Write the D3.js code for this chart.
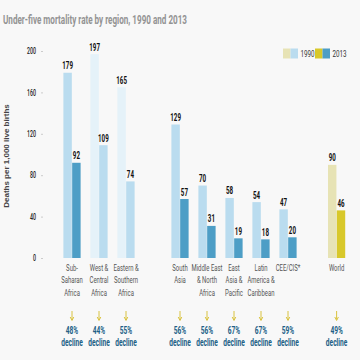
<!DOCTYPE html>
<html><head><meta charset="utf-8">
<script src="https://cdn.jsdelivr.net/npm/d3@7/dist/d3.min.js"></script>
<style>
body{margin:0;background:#f8f8f8}
svg{display:block}
.n{font-family:Roboto,"Liberation Sans",sans-serif}
</style></head>
<body><svg id="chart" width="360" height="360"></svg>
<script>
const categories = ["Sub-\nSaharan\nAfrica","West &\nCentral\nAfrica","Eastern &\nSouthern\nAfrica","South\nAsia","Middle East\n& North\nAfrica","East\nAsia &\nPacific","Latin\nAmerica &\nCaribbean","CEE/CIS*","World"];
const groupKinds = ["region","sub","sub","region","region","region","region","region","world"];
const values1990 = [179,197,165,129,70,58,54,47,90];
const values2013 = [92,109,74,57,31,19,18,20,46];
const declines = ["48%","44%","55%","56%","56%","67%","67%","59%","49%"];
const seriesNames = ["1990","2013"];
const yTicks = [0,40,80,120,160,200];
const titleText = "Under-five mortality rate by region, 1990 and 2013";
const yTitleText = "Deaths per 1,000 live births";

const palette = {region:["#badcef","#4d9ec6"], sub:["#e5f2f9","#badcef"], world:["#e7e3b5","#d8c82a"]};

const svg = d3.select("#chart");
svg.append("rect").attr("width",360).attr("height",360).attr("fill","#f8f8f8");

const slot = i => i + (i>=3?1:0) + (i>=8?0.8:0);
const x = d3.scaleLinear().domain([0, 9.8]).range([72, 336.6]);
const xs = d3.scaleBand().domain(seriesNames).range([-8.6, 8.6]).paddingInner(0.04);
const y = d3.scaleLinear().domain([0,200]).range([258, 51]);

// title
svg.append("text").attr("class","n").attr("x",3).attr("y",24)
  .attr("font-size",12.5).attr("font-weight","bold").attr("fill","#939393")
  .attr("textLength",184).attr("lengthAdjust","spacingAndGlyphs").text(titleText);

// y axis
const TS = 0.62;
const yAxis = svg.append("g").attr("transform","translate(43,0)")
  .call(d3.axisLeft(y).tickValues(yTicks).tickSize(2).tickPadding(5));
yAxis.select(".domain").remove();
yAxis.selectAll(".tick line").attr("stroke","#ccc");
yAxis.selectAll(".tick text").attr("class","n").attr("font-family",null)
  .attr("font-size",8.5).attr("font-weight",500).attr("fill","#222")
  .attr("x",-7/TS).attr("transform",`scale(${TS},1)`);

svg.append("text").attr("transform","translate(9,156) rotate(-90)")
  .attr("text-anchor","middle").attr("font-family","Liberation Sans, Arial, sans-serif")
  .attr("font-weight","bold").attr("font-size",8).attr("fill","#444").text(yTitleText);

// data rows
const rows = categories.map((c,i)=>({i, name:c, kind:groupKinds[i], v:[values1990[i], values2013[i]], dec:declines[i]}));

const g = svg.selectAll("g.grp").data(rows).join("g").attr("class","grp")
  .attr("transform", d=>`translate(${x(slot(d.i))},0)`);

g.selectAll("rect").data(d=>seriesNames.map((s,k)=>({s, v:d.v[k], color:palette[d.kind][k]})))
  .join("rect")
  .attr("x", d=>xs(d.s)).attr("width", xs.bandwidth())
  .attr("y", d=>y(d.v)).attr("height", d=>y(0)-y(d.v))
  .attr("fill", d=>d.color);

g.selectAll("text.val").data(d=>seriesNames.map((s,k)=>({s, v:d.v[k]})))
  .join("text").attr("class","val n")
  .attr("transform", d=>`translate(${xs(d.s)+xs.bandwidth()/2},${y(d.v)-3.5}) scale(0.62,1)`)
  .attr("text-anchor","middle").attr("font-size",10).attr("font-weight","bold").attr("fill","#111")
  .text(d=>d.v);

// category labels
g.append("text").attr("class","n").attr("text-anchor","middle").attr("font-size",8.5).attr("fill","#555")
  .attr("transform","scale(0.7,1)")
  .selectAll("tspan").data(d=>d.name.split("\n")).join("tspan")
  .attr("x",0).attr("y",(d,k)=>271+k*12.5).text(d=>d);

// arrows
const arrowColor = "#d6bd2e";
g.append("line").attr("x1",0).attr("x2",0).attr("y1",311).attr("y2",319.5)
  .attr("stroke",arrowColor).attr("stroke-width",0.9);
g.append("path").attr("d","M-1.8,317 L0,320.5 L1.8,317").attr("fill","none")
  .attr("stroke",arrowColor).attr("stroke-width",0.9);

// declines
g.append("text").attr("class","n").attr("text-anchor","middle").attr("transform","translate(0,334) scale(0.66,1)")
  .attr("font-size",10).attr("font-weight","bold").attr("fill","#225f86").text(d=>d.dec);
g.append("text").attr("class","n").attr("text-anchor","middle").attr("transform","translate(0,346) scale(0.66,1)")
  .attr("font-size",10).attr("font-weight","bold").attr("fill","#225f86").text("decline");

// legend
const legend = svg.append("g");
const legendItems = [
  {label:"1990", colors:[palette.world[0], palette.region[0]], x:283},
  {label:"2013", colors:[palette.world[1], palette.region[1]], x:315}
];
legendItems.forEach(it=>{
  it.colors.forEach((c,k)=>legend.append("rect").attr("x",it.x+k*7.5).attr("y",48.5).attr("width",7.5).attr("height",10).attr("fill",c));
  legend.append("text").attr("class","n").attr("transform",`translate(${it.x+17.5},57) scale(0.66,1)`)
    .attr("font-size",9.5).attr("fill","#333").text(it.label);
});
</script>
</body></html>
